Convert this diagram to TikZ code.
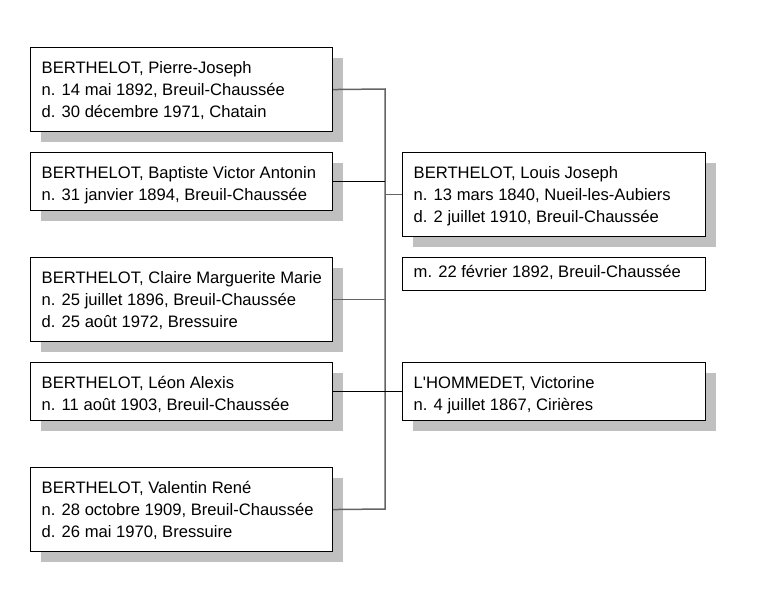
\documentclass[tikz,border=0pt]{standalone}
\usepackage{fontspec}
\setmainfont{Liberation Sans}[Ligatures=TeXOff]
\usetikzlibrary{shadows}
\definecolor{shadowgray}{RGB}{192,192,192}
\definecolor{linegray}{RGB}{100,100,100}
\begin{document}
\begin{tikzpicture}[x=1pt,y=-1pt,
  personbox/.style={draw=black, line width=1.1pt, fill=white, anchor=north west, inner sep=0pt,
    minimum width=#1, drop shadow={shadow xshift=10pt, shadow yshift=-10pt, fill=shadowgray, opacity=1}},
  plainbox/.style={draw=black, line width=1.1pt, fill=white, anchor=north west, inner sep=0pt, minimum width=#1},
  txt/.style={anchor=north west, inner sep=0pt, align=left, font=\fontsize{16.6}{22}\selectfont},
  gline/.style={draw=linegray, line width=1.5pt},
  bline/.style={draw=black, line width=1pt}]
\fill[white] (0,0) rectangle (761,600);
\useasboundingbox (0,0) rectangle (761,600);

% children
\node[personbox=302pt, minimum height=84pt] (p1) at (30,47) {};
\node[txt] (t1) at ([xshift=11.5pt, yshift=-11pt]p1.north west) {\strut BERTHELOT, Pierre-Joseph\\n. 14 mai 1892, Breuil-Chaussée\\d. 30 décembre 1971, Chatain};

\node[personbox=302pt, minimum height=58pt] (p2) at (30,152) {};
\node[txt] (t2) at ([xshift=11.5pt, yshift=-11pt]p2.north west) {\strut BERTHELOT, Baptiste Victor Antonin\\n. 31 janvier 1894, Breuil-Chaussée};

\node[personbox=302pt, minimum height=84pt] (p3) at (30,257) {};
\node[txt] (t3) at ([xshift=11.5pt, yshift=-11pt]p3.north west) {\strut BERTHELOT, Claire Marguerite Marie\\n. 25 juillet 1896, Breuil-Chaussée\\d. 25 août 1972, Bressuire};

\node[personbox=302pt, minimum height=58pt] (p4) at (30,362) {};
\node[txt] (t4) at ([xshift=11.5pt, yshift=-11pt]p4.north west) {\strut BERTHELOT, Léon Alexis\\n. 11 août 1903, Breuil-Chaussée};

\node[personbox=302pt, minimum height=84pt] (p5) at (30,467) {};
\node[txt] (t5) at ([xshift=11.5pt, yshift=-11pt]p5.north west) {\strut BERTHELOT, Valentin René\\n. 28 octobre 1909, Breuil-Chaussée\\d. 26 mai 1970, Bressuire};

% parents
\node[personbox=303pt, minimum height=84pt] (louis) at (402,152) {};
\node[txt] (tl) at ([xshift=11.5pt, yshift=-11pt]louis.north west) {\strut BERTHELOT, Louis Joseph\\n. 13 mars 1840, Nueil-les-Aubiers\\d. 2 juillet 1910, Breuil-Chaussée};

\node[plainbox=303pt, minimum height=33pt] (marr) at (402,257) {};
\node[txt] (tm) at ([xshift=11.5pt, yshift=-5pt]marr.north west) {\strut m. 22 février 1892, Breuil-Chaussée};

\node[personbox=303pt, minimum height=58pt] (vic) at (402,362) {};
\node[txt] (tv) at ([xshift=11.5pt, yshift=-11pt]vic.north west) {\strut L'HOMMEDET, Victorine\\n. 4 juillet 1867, Cirières};

% connectors
\coordinate (vt) at (385,89);
\coordinate (vb) at (385,509);
\draw[gline] (p1.east) -- (vt) -- (vb) -- (p5.east);
\draw[gline] (p3.east) -- (p3.east -| vt);
\draw[gline] (louis.west) -- (louis.west -| vt);
\draw[bline] (p2.east) -- (p2.east -| vt);
\draw[bline] (p4.east) -- (vic.west);
\end{tikzpicture}
\end{document}
